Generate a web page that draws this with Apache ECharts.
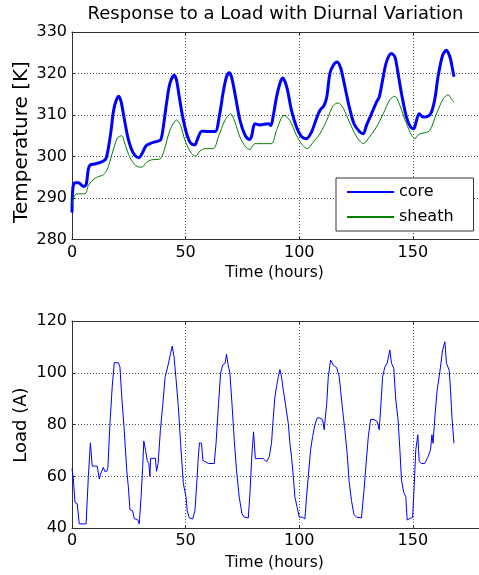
<!DOCTYPE html>
<html>
<head>
<meta charset="utf-8">
<script src="https://cdn.jsdelivr.net/npm/echarts@6/dist/echarts.min.js"></script>
<style>
html,body{margin:0;padding:0;background:#fff;overflow:hidden;}
#chart{width:520px;height:575px;}
</style>
</head>
<body>
<div id="chart"></div>
<script>
// ---- data ----
var titleText = 'Response to a Load with Diurnal Variation';
var xTicks = [0, 50, 100, 150];

var coreTime = [0,0.4,1.3,2.8,5,6.2,7.2,8.1,10,12,14,15,16,17.2,18.3,19.5,20.6,21.6,23.1,24.5,26,27.5,29.4,30.9,32.6,34.8,37,39,40.2,41.6,43.1,45,46,47.2,48.7,50.4,52.2,54.1,55.1,57.1,60,63,64.8,66.6,68,69.2,70.2,71.7,73.9,76.1,78,79,80.5,82.7,86.4,87.5,88.6,90,91.5,92.7,94.5,96.6,98.8,101,103.2,105.4,107.3,109.1,110.9,112.1,113.5,115,116.7,118.3,120.1,122,124.1,126.7,128.2,129.6,131.8,134,135.2,136.7,138.4,140.6,142.1,143.5,145,147.2,149,150.4,151.6,152.8,154.5,156.7,158.2,159.7,161.1,163.1,164.8,166.3,167,168.1];
var coreTemp = [286.5,292.5,293.7,293.7,292.8,293.2,297,298,298.2,298.5,299,299.6,302,306.3,311.1,313.6,314.5,313.2,308.8,304.8,302,300.4,299.7,300.8,302.6,303.2,303.6,304,307.2,312.8,317.6,319.6,318.4,314.4,309.6,305.6,303.2,302.8,304,306.1,306,306,309.6,315.7,319.2,320.2,319.2,315.2,308.8,305.2,304.1,304.8,307.9,307.6,307.9,307.5,309.9,314.3,317.6,318.9,316.8,311.1,307.1,304.8,304.3,305.9,308.7,311.1,312.3,314.3,320,322,322.8,321.2,316.8,312,307.9,305.9,305.5,307.5,310.3,313.1,314.3,318.4,322.8,324.8,324,320,315.2,309.5,307.1,306.7,308.7,310.3,309.5,309.7,310.7,313.9,319.2,324.4,325.6,324,322.4,319.2];

var sheathTime = [0,0.9,2.1,5.7,7.2,8.6,10.9,13.8,15.6,17,18.5,20,21.9,23.3,25.5,28.1,30.6,32.8,35,38.7,40.5,43.1,46,47.8,49.7,52.6,54.5,56.3,58.5,62.2,64.4,67.3,69.8,71.7,73.9,76.5,78.3,80.5,84.2,87.8,90,93.3,95.9,98.8,101.5,103.5,106.2,109.1,112.1,115,117.2,119.5,122.1,125.3,128.2,130.9,134,137,139.9,142.1,144.3,147.2,149.5,150.9,152.8,155.3,157.5,160.4,163.4,165.5,167,168.1];
var sheathTemp = [288.5,290.3,291,291,293,294,295,295.6,297,299.4,302.2,304.5,305,303,299.8,297.8,297.4,298.6,299.2,299.4,301.4,306.3,308.8,307.5,303.9,300.7,300.1,301.3,301.9,301.9,304.7,308.7,310.3,308.3,304.7,302.3,301.7,303.1,303.1,303.1,306.3,309.9,308.7,305.1,302.7,301.9,303.5,305.5,308.7,312.3,312.9,311.5,308.3,304.7,303.1,304.7,307.1,310.3,313.7,314.5,312.3,307.9,305.1,304.3,305.4,305.7,306.3,310.3,313.9,314.9,313.9,313.1];

var loadTime = [0,0.3,0.6,1.3,2.3,3.2,6.2,7.2,8.1,8.9,11.1,12,12.6,13.8,14.4,15.3,15.8,16.7,17.7,18.6,20.4,21.1,21.9,22.9,24.1,24.8,25.5,26.7,27.4,28.9,29.6,30.4,31.1,31.6,32.4,33.1,33.8,34.3,34.6,36.7,37.2,37.9,38.9,40,41,42.1,43.4,44.1,44.9,45.7,46.8,47.8,49,50.2,50.7,51.6,53.1,54.1,54.9,55.6,56.1,57,57.6,58.2,58.9,60.1,62.6,63.4,64.5,65.4,66.3,67.4,68,68.6,69.5,70.4,71.4,72.4,73.6,74.8,75.8,77.6,78.3,79.2,79.9,80.7,82.7,84.2,85.6,86.8,87.8,88.6,89.3,90,90.8,91.5,92.2,93,94.1,95.2,95.9,96.6,97.4,98.1,99.1,100,101.5,102.5,103.2,104,105,105.9,106.9,107.9,109.1,110.3,111,111.4,112.1,112.8,113.8,115,116.5,117.6,118.2,119.1,120.1,121.1,122,123,124.1,125.2,127.4,128.5,129.3,130.4,131.4,132.9,134.3,135.2,135.8,136.7,137.7,138.7,139.9,140.6,141.6,142.5,143.5,144.3,145,146,146.9,147.5,148.7,149.9,150.5,151.3,152.2,152.8,153.8,155.2,156.7,157.8,158.4,158.9,159.7,160.7,161.9,163.1,164.1,164.8,166,166.6,167.2,168.1];
var loadAmps = [63,63,59,50,49.5,41.7,41.7,60,73,64,64,59,61,63.5,62,62,63.5,80.4,94.6,103.9,103.9,102.3,90.7,79,62.4,55.9,47.2,46.7,43.7,43.3,41.7,52,63.5,73.7,70,66.2,65,60,67,67,62,65,77.8,88.2,98.5,102.3,107.5,110.3,106.2,98.5,86.9,72.8,57.2,52,46.8,44,43.6,46.8,57.2,67.6,73,72.8,66.2,66.9,65.6,65,65,72.8,88.2,99.8,103,103.7,107.2,103.7,99.8,88.2,74,62.4,52,45.6,44.3,44,53.3,68.8,77.2,66.9,66.9,66.9,65.6,67.6,72.8,83,90.7,94.6,98.5,101.3,98.5,93.3,86.9,80.4,72.8,67.6,60,52,48.1,44.3,44.3,43.6,52,60,70.3,75.4,80,82.6,82.6,81.9,78,81.9,88.2,98.5,104.9,103,102,98.5,93.3,85.6,77.8,68.8,57.8,50.7,45.3,44.3,44,54.6,63.6,75.3,82,82,81.2,78,85.6,98.5,102.3,103.7,108.8,103.7,101.8,89.5,81.9,70.3,58.7,53.8,52.2,43.2,43.8,44.2,54.6,70.3,76.1,65.8,65,65,67.6,70.3,76.1,72.8,83,93.3,100.4,108.8,112,103.7,101,93.3,83,72.8];

function pairs(xs, ys){ var out=[]; for(var i=0;i<xs.length;i++){ out.push([xs[i], ys[i]]); } return out; }

var FONT = 'DejaVu Sans';
var X_MAX = 180;
var gridLine = {show:true, lineStyle:{color:'#555', type:[1,2], width:1}};
function xAxisCfg(idx){
  return {
    type:'value', gridIndex:idx, min:0, max:X_MAX, interval:50, position:'bottom',
    axisLine:{show:true, onZero:false, lineStyle:{color:'#333', width:1}},
    axisTick:{show:true, inside:true, length:3, lineStyle:{color:'#333'}},
    axisLabel:{fontFamily:FONT, fontSize:16, color:'#000', margin:5, showMaxLabel:false},
    splitLine:gridLine
  };
}
function xTopCfg(idx){
  return {
    type:'value', gridIndex:idx, min:0, max:X_MAX, interval:50, position:'top',
    axisLine:{show:true, onZero:false, lineStyle:{color:'#333', width:1}},
    axisTick:{show:true, inside:true, length:3, lineStyle:{color:'#333'}},
    axisLabel:{show:false}, splitLine:{show:false}
  };
}
function yAxisCfg(idx, mn, mx, iv){
  return {
    type:'value', gridIndex:idx, min:mn, max:mx, interval:iv,
    axisLine:{show:true, lineStyle:{color:'#333', width:1}},
    axisTick:{show:true, inside:true, length:3, lineStyle:{color:'#333'}},
    axisLabel:{fontFamily:FONT, fontSize:16, color:'#000', margin:5},
    splitLine:gridLine
  };
}

var chart = echarts.init(document.getElementById('chart'), null, {renderer:'canvas'});
chart.setOption({
  backgroundColor:'#fff',
  animation:false,
  graphic:[
    {type:'text', x:275.5, y:14,
     style:{text:titleText, fontFamily:FONT, fontSize:18, fill:'#000', textAlign:'center', textVerticalAlign:'middle'}},
    {type:'text', x:22, y:142, rotation:Math.PI/2,
     style:{text:'Temperature [K]', fontFamily:FONT, fontSize:20, fill:'#000', textAlign:'center', textVerticalAlign:'middle'}},
    {type:'text', x:21, y:425, rotation:Math.PI/2,
     style:{text:'Load (A)', fontFamily:FONT, fontSize:18, fill:'#000', textAlign:'center', textVerticalAlign:'middle'}},
    {type:'text', x:274.5, y:273, style:{text:'Time (hours)', fontFamily:FONT, fontSize:15.5, fill:'#000', textAlign:'center', textVerticalAlign:'middle'}},
    {type:'text', x:274.5, y:563, style:{text:'Time (hours)', fontFamily:FONT, fontSize:15.5, fill:'#000', textAlign:'center', textVerticalAlign:'middle'}}
  ],
  grid:[
    {left:72, top:32, width:409, height:207.5, show:false, containLabel:false},
    {left:72, top:321, width:409, height:207.3, show:false, containLabel:false}
  ],
  xAxis:[xAxisCfg(0), xAxisCfg(1), xTopCfg(0), xTopCfg(1)],
  yAxis:[yAxisCfg(0,280,330,10), yAxisCfg(1,40,120,20)],
  legend:{
    data:['core','sheath'], orient:'vertical', left:336, top:178,
    backgroundColor:'#fff', borderColor:'#333', borderWidth:1, borderRadius:0,
    padding:[6,20,6,10], itemWidth:47, itemHeight:14, itemGap:9,
    itemStyle:{opacity:0},
    textStyle:{fontFamily:FONT, fontSize:16, color:'#000', padding:[0,0,0,0]}
  },
  series:[
    {name:'core', type:'line', xAxisIndex:0, yAxisIndex:0, data:pairs(coreTime, coreTemp), symbol:'none', smooth:0.3,
     lineStyle:{color:'#0000ff', width:3}, itemStyle:{color:'#0000ff'}},
    {name:'sheath', type:'line', xAxisIndex:0, yAxisIndex:0, data:pairs(sheathTime, sheathTemp), symbol:'none', smooth:0.3,
     lineStyle:{color:'#008000', width:1}, itemStyle:{color:'#008000'}},
    {name:'load', type:'line', xAxisIndex:1, yAxisIndex:1, data:pairs(loadTime, loadAmps), symbol:'none',
     lineStyle:{color:'#0000ff', width:1}, itemStyle:{color:'#0000ff'}}
  ]
});
</script>
</body>
</html>
